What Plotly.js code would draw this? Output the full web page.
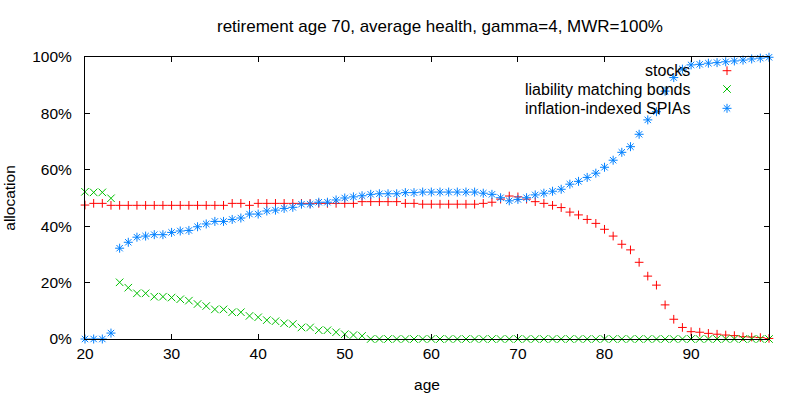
<!DOCTYPE html>
<html>
<head>
<meta charset="utf-8">
<script src="https://cdn.plot.ly/plotly-3.0.1.min.js"></script>
<style>html,body{margin:0;padding:0;background:#fff;}#chart{width:800px;height:400px;}</style>
</head>
<body>
<div id="chart"></div>
<script>
var ages = [20,21,22,23,24,25,26,27,28,29,30,31,32,33,34,35,36,37,38,39,
            40,41,42,43,44,45,46,47,48,49,50,51,52,53,54,55,56,57,58,59,
            60,61,62,63,64,65,66,67,68,69,70,71,72,73,74,75,76,77,78,79,
            80,81,82,83,84,85,86,87,88,89,90,91,92,93,94,95,96,97,98,99];

var stocks = [47.5,48.1,48.1,47.4,47.4,47.4,47.4,47.4,47.4,47.4,47.4,47.4,47.4,47.4,47.4,47.4,47.4,48.1,48.1,47.4,
              48.1,48.1,48.1,48.1,48.1,48.1,48.1,48.1,48.1,48.1,48.1,48.1,48.7,48.7,48.7,48.7,48.7,48.1,48.1,47.8,
              47.8,47.8,47.8,47.8,47.8,47.8,48.1,48.5,49.6,50.7,50.4,49.6,48.7,48.1,47.4,46.6,45.0,44.0,42.4,41.0,
              38.9,36.5,33.6,31.6,27.2,22.3,19.1,12.1,7.0,4.1,2.6,2.4,2.0,1.7,1.4,1.2,0.8,0.7,0.5,0.2];

var bonds = [52.2,52.0,52.0,49.9,20.1,18.2,16.2,16.2,15.0,15.0,14.7,14.1,13.6,12.4,11.7,10.5,10.5,9.5,9.5,8.2,
             7.7,6.7,6.3,5.6,5.3,4.1,4.1,3.1,3.1,2.4,1.7,1.4,1.1,0,0,0,0,0,0,0,
             0,0,0,0,0,0,0,0,0,0,0,0,0,0,0,0,0,0,0,0,
             0,0,0,0,0,0,0,0,0,0,0,0,0,0,0,0,0,0,0,0];

var spias = [0,0,0,2.1,32.2,34.3,36.1,36.5,37.0,37.0,37.8,38.3,38.5,39.8,40.8,41.7,41.7,42.4,42.9,44.3,
             44.3,45.4,45.7,46.3,46.7,47.8,47.8,48.5,48.5,49.3,50.0,50.4,50.8,51.3,51.5,51.5,51.5,51.9,51.9,52.1,
             52.1,52.1,52.1,52.1,52.1,52.1,51.7,51.3,50.1,49.0,49.5,50.1,51.1,51.7,52.4,53.1,54.9,55.9,57.3,58.8,
             60.9,63.4,66.2,68.2,72.6,77.7,80.6,87.9,92.7,95.7,97.2,97.4,97.8,98.0,98.3,98.6,98.9,99.3,99.6,99.9];

var seriesNames = ['stocks', 'liability matching bonds', 'inflation-indexed SPIAs'];
var xTicks = [20,30,40,50,60,70,80,90];
var yTicks = [0,20,40,60,80,100];
var titleText = 'retirement age 70, average health, gamma=4, MWR=100%';

var colors = ['#ff0000', '#00c000', '#0080ff'];
var symbols = ['cross-thin-open', 'x-thin-open', 'asterisk-open'];
var sizes = [6.2, 7.5, 7.5];
var seriesData = [stocks, bonds, spias];

var FONT = 'Liberation Sans, Arial, sans-serif';
var traces = [];
for (var i = 0; i < 3; i++) {
  traces.push({
    type: 'scatter', mode: 'markers', x: ages, y: seriesData[i],
    name: seriesNames[i], showlegend: false, cliponaxis: false,
    marker: {symbol: symbols[i], size: sizes[i], color: colors[i], line: {color: colors[i], width: 1}},
    hoverinfo: 'x+y'
  });
}

// legend keys (gnuplot style: text right-aligned, sample to its right)
var legX = 0.9386, legTextX = 0.8874;
var legY = [0.9514, 0.8865, 0.818];
var annotations = [];
for (var j = 0; j < 3; j++) {
  traces.push({
    type: 'scatter', mode: 'markers', x: [legX], y: [legY[j]], xaxis: 'x2', yaxis: 'y2',
    showlegend: false, hoverinfo: 'skip', cliponaxis: false,
    marker: {symbol: symbols[j], size: sizes[j], color: colors[j], line: {color: colors[j], width: 1}}
  });
  annotations.push({
    xref: 'paper', yref: 'paper', x: legTextX, y: legY[j], xanchor: 'right', yanchor: 'middle',
    text: seriesNames[j], showarrow: false, font: {family: FONT, size: 16, color: '#000'}
  });
}

var layout = {
  width: 800, height: 400,
  margin: {l: 85, r: 31, t: 57, b: 61, pad: 0},
  paper_bgcolor: '#fff', plot_bgcolor: '#fff',
  font: {family: FONT, size: 15.5, color: '#000'},
  title: {text: titleText, x: 0.519, xref: 'paper', xanchor: 'center', y: 0.935, yref: 'container', yanchor: 'middle',
          font: {family: FONT, size: 17, color: '#000'}},
  showlegend: false,
  xaxis: {range: [20, 99], tickvals: xTicks, ticktext: xTicks.map(String), ticks: 'inside', ticklen: 5,
          tickcolor: '#000', showline: true, linecolor: '#000', linewidth: 1, mirror: 'ticks',
          showgrid: false, zeroline: false, tickfont: {size: 15.5},
          title: {text: 'age', standoff: 18, font: {size: 15.5}}},
  yaxis: {range: [0, 100], tickvals: yTicks, ticktext: yTicks.map(function(v){return v + '%';}), ticks: 'inside', ticklen: 5,
          tickcolor: '#000', showline: true, linecolor: '#000', linewidth: 1, mirror: 'ticks',
          showgrid: false, zeroline: false, tickfont: {size: 15.5}, ticklabelstandoff: 9,
          title: {text: 'allocation', standoff: 12, font: {size: 15.5}}},
  xaxis2: {range: [0, 1], overlaying: 'x', visible: false, fixedrange: true},
  yaxis2: {range: [0, 1], overlaying: 'y', visible: false, fixedrange: true},
  annotations: annotations
};

Plotly.newPlot('chart', traces, layout, {staticPlot: true, displayModeBar: false});
</script>
</body>
</html>
